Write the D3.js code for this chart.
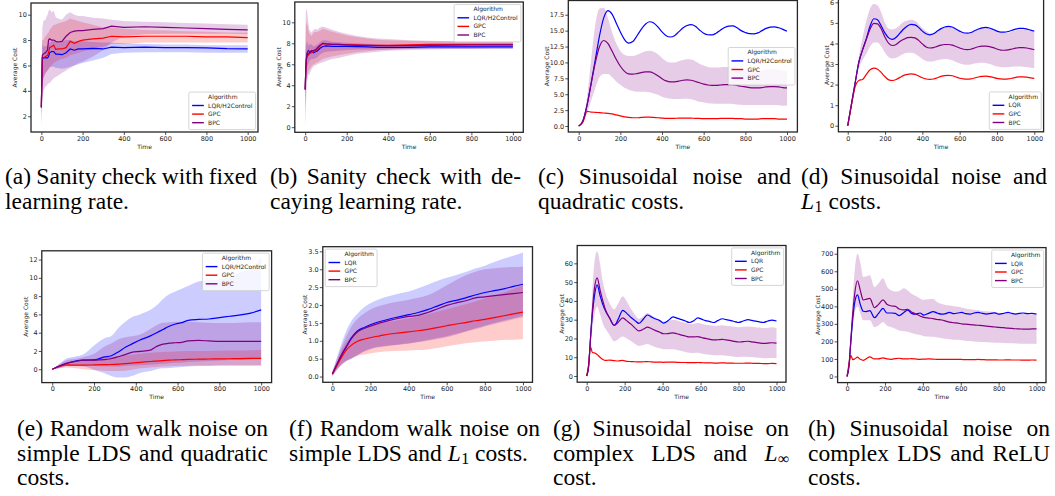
<!DOCTYPE html>
<html>
<head>
<meta charset="utf-8">
<script src="https://cdn.jsdelivr.net/npm/d3@7"></script>
<style>
  body { margin: 0; background: #fff; }
  svg { display: block; }
</style>
</head>
<body>
<svg id="fig" width="1055" height="496"></svg>
<script>
// ---- data ----
const xTicks = [0, 200, 400, 600, 800, 1000]

// (a) sanity check, fixed learning rate
const aT      = [0, 5, 10, 20, 30, 35, 40, 50, 60, 70, 80, 100, 120, 140, 160, 180, 200, 250, 300, 340, 400, 500, 600, 700, 800, 900, 1000]
const aLqr    = [2.7, 6.6, 6.6, 6.6, 6.6, 6.7, 7.0, 7.1, 7.1, 6.9, 6.9, 6.85, 7.0, 7.3, 7.2, 7.3, 7.3, 7.35, 7.3, 7.45, 7.4, 7.45, 7.4, 7.4, 7.38, 7.32, 7.3]
const aLqrLo  = [2.0, 4.5, 5.0, 5.4, 5.6, 5.7, 5.9, 5.9, 5.9, 5.8, 5.8, 5.75, 5.8, 5.9, 6.0, 6.1, 6.2, 6.4, 6.6, 6.9, 7.0, 7.05, 7.05, 7.05, 7.0, 7.0, 7.0]
const aLqrHi  = [3.4, 7.8, 7.5, 7.5, 7.6, 7.7, 7.8, 7.9, 7.9, 7.9, 7.9, 7.9, 8.0, 8.0, 7.9, 7.9, 7.9, 7.85, 7.8, 7.8, 7.75, 7.7, 7.65, 7.65, 7.6, 7.6, 7.6]
const aGpc    = [2.7, 6.6, 6.6, 6.7, 6.8, 7.0, 7.4, 7.5, 7.6, 7.25, 7.3, 7.3, 7.4, 7.9, 7.75, 7.9, 8.0, 8.1, 8.15, 8.3, 8.25, 8.3, 8.3, 8.3, 8.25, 8.25, 8.2]
const aGpcLo  = [2.0, 4.5, 5.0, 5.4, 5.6, 5.7, 5.8, 6.0, 6.2, 6.3, 6.4, 6.5, 6.6, 6.8, 6.9, 7.0, 7.1, 7.3, 7.5, 7.7, 7.7, 7.8, 7.8, 7.8, 7.8, 7.8, 7.8]
const aGpcHi  = [3.4, 8.0, 8.0, 8.3, 8.5, 8.6, 8.8, 9.0, 9.2, 9.2, 9.3, 9.4, 9.5, 9.7, 9.6, 9.5, 9.4, 9.2, 9.0, 9.0, 8.9, 8.8, 8.75, 8.7, 8.65, 8.6, 8.6]
const aBpc    = [2.7, 6.8, 6.9, 7.0, 7.2, 8.0, 8.1, 8.0, 8.0, 7.9, 7.85, 7.9, 8.3, 8.6, 8.7, 8.75, 8.75, 8.85, 8.9, 9.1, 9.0, 9.05, 9.0, 8.95, 8.9, 8.85, 8.8]
const aBpcLo  = [1.2, 3.0, 4.0, 4.3, 4.5, 4.6, 4.6, 4.8, 5.0, 5.1, 5.2, 5.4, 5.6, 5.8, 6.0, 6.2, 6.3, 6.7, 7.2, 7.8, 8.3, 8.45, 8.5, 8.5, 8.5, 8.5, 8.45]
const aBpcHi  = [4.5, 9.0, 9.5, 9.6, 10.0, 10.3, 10.4, 10.2, 10.3, 9.8, 9.7, 9.6, 10.0, 10.2, 10.0, 9.9, 9.9, 9.75, 9.7, 9.6, 9.5, 9.45, 9.4, 9.35, 9.3, 9.25, 9.2]

// (b) sanity check, decaying learning rate
const bT      = [0, 3, 6, 10, 15, 20, 30, 40, 50, 60, 70, 85, 100, 130, 160, 200, 250, 300, 350, 400, 500, 600, 700, 800, 900, 1000]
const bLqr    = [3.6, 5.5, 6.5, 7.0, 6.9, 7.1, 7.2, 7.1, 7.2, 7.3, 7.5, 7.7, 7.75, 7.7, 7.7, 7.7, 7.68, 7.65, 7.62, 7.6, 7.62, 7.65, 7.65, 7.65, 7.65, 7.65]
const bLqrLo  = [2.0, 3.5, 5.0, 5.8, 6.0, 6.3, 6.5, 6.5, 6.6, 6.7, 6.9, 7.1, 7.2, 7.25, 7.3, 7.35, 7.4, 7.4, 7.4, 7.4, 7.45, 7.45, 7.45, 7.45, 7.45, 7.45]
const bLqrHi  = [5.0, 7.5, 8.0, 8.2, 7.8, 7.9, 7.9, 7.7, 7.8, 7.9, 8.1, 8.3, 8.3, 8.15, 8.1, 8.05, 8.0, 7.95, 7.9, 7.85, 7.85, 7.85, 7.85, 7.85, 7.85, 7.85]
const bGpc    = [3.6, 5.5, 6.5, 6.8, 6.9, 7.0, 7.1, 7.2, 7.3, 7.5, 7.7, 8.0, 7.95, 7.9, 7.9, 7.85, 7.85, 7.8, 7.8, 7.8, 7.85, 7.9, 7.9, 7.9, 7.9, 7.9]
const bGpcLo  = [1.5, 3.0, 4.5, 5.0, 5.3, 5.5, 5.8, 6.0, 6.1, 6.2, 6.3, 6.5, 6.6, 6.75, 6.85, 7.0, 7.15, 7.25, 7.35, 7.4, 7.5, 7.55, 7.6, 7.6, 7.65, 7.65]
const bGpcHi  = [6.0, 9.5, 10.0, 9.8, 9.3, 8.9, 8.7, 9.0, 9.1, 9.1, 9.2, 9.4, 9.3, 9.1, 8.95, 8.75, 8.6, 8.45, 8.35, 8.3, 8.25, 8.2, 8.2, 8.2, 8.15, 8.15]
const bBpc    = [3.6, 5.6, 6.6, 7.1, 7.3, 7.2, 7.3, 7.3, 7.4, 7.6, 7.8, 8.0, 7.95, 7.9, 7.9, 7.85, 7.8, 7.8, 7.78, 7.75, 7.78, 7.8, 7.82, 7.84, 7.85, 7.85]
const bBpcLo  = [0.1, 1.5, 3.5, 4.5, 5.0, 5.0, 5.5, 5.8, 5.9, 6.0, 6.1, 6.2, 6.3, 6.5, 6.6, 6.8, 7.0, 7.1, 7.2, 7.3, 7.35, 7.4, 7.45, 7.45, 7.5, 7.5]
const bBpcHi  = [7.0, 11.0, 11.3, 11.0, 10.0, 9.3, 9.0, 9.3, 9.4, 9.3, 9.5, 9.6, 9.5, 9.3, 9.1, 8.9, 8.7, 8.55, 8.45, 8.4, 8.3, 8.25, 8.2, 8.2, 8.15, 8.15]

// (c) and (d) share a 20-step time grid
const t20 = [0, 20, 40, 60, 80, 100, 120, 140, 160, 180, 200, 220, 240, 260, 280, 300, 320, 340, 360, 380, 400, 420, 440, 460, 480, 500, 520, 540, 560, 580, 600, 620, 640, 660, 680, 700, 720, 740, 760, 780, 800, 820, 840, 860, 880, 900, 920, 940, 960, 980, 1000]
const cLqr    = [0, 0.8, 3.3, 6.8, 10.5, 14.2, 17.0, 18.15, 17.6, 16.2, 14.8, 13.6, 13.05, 13.3, 14.2, 15.2, 16.0, 16.4, 16.2, 15.6, 14.8, 14.2, 14.0, 14.2, 14.8, 15.4, 15.8, 15.95, 15.7, 15.1, 14.6, 14.35, 14.32, 14.6, 15.05, 15.5, 15.72, 15.75, 15.45, 15.0, 14.7, 14.52, 14.5, 14.65, 15.0, 15.35, 15.55, 15.6, 15.45, 15.2, 14.9]
const cGpc    = [0, 0.6, 2.3, 2.2, 2.15, 2.1, 2.05, 2.0, 1.9, 1.75, 1.6, 1.45, 1.35, 1.3, 1.3, 1.35, 1.4, 1.4, 1.35, 1.3, 1.25, 1.2, 1.2, 1.2, 1.25, 1.25, 1.25, 1.25, 1.2, 1.2, 1.15, 1.15, 1.15, 1.15, 1.2, 1.2, 1.2, 1.2, 1.15, 1.15, 1.1, 1.1, 1.1, 1.1, 1.15, 1.15, 1.15, 1.15, 1.1, 1.1, 1.1]
const cBpc    = [0, 0.8, 3.3, 6.7, 10.0, 12.5, 13.45, 13.0, 11.8, 10.5, 9.4, 8.6, 8.2, 8.15, 8.25, 8.4, 8.5, 8.5, 8.3, 7.9, 7.45, 7.1, 6.95, 6.95, 7.05, 7.2, 7.25, 7.2, 7.0, 6.8, 6.6, 6.45, 6.4, 6.4, 6.45, 6.5, 6.5, 6.5, 6.4, 6.25, 6.15, 6.05, 6.0, 6.0, 6.05, 6.15, 6.2, 6.2, 6.15, 6.05, 6.0]
const cBpcLo  = [0, 0.6, 2.0, 4.0, 6.0, 7.7, 8.2, 8.2, 7.7, 7.0, 6.5, 6.0, 5.7, 5.5, 5.4, 5.4, 5.4, 5.3, 5.1, 4.9, 4.6, 4.4, 4.3, 4.25, 4.25, 4.3, 4.3, 4.2, 4.0, 3.8, 3.7, 3.6, 3.55, 3.5, 3.5, 3.5, 3.5, 3.45, 3.4, 3.35, 3.3, 3.3, 3.3, 3.3, 3.3, 3.3, 3.3, 3.3, 3.25, 3.2, 3.2]
const cBpcHi  = [0, 1.0, 4.5, 10.5, 16.0, 18.5, 18.6, 17.0, 14.8, 13.0, 11.8, 11.2, 11.0, 11.0, 11.2, 11.5, 11.75, 11.85, 11.7, 11.3, 10.7, 10.2, 10.0, 10.0, 10.2, 10.4, 10.5, 10.45, 10.2, 9.8, 9.5, 9.3, 9.2, 9.2, 9.25, 9.3, 9.3, 9.3, 9.2, 9.0, 8.85, 8.75, 8.7, 8.7, 8.75, 8.85, 8.9, 8.9, 8.85, 8.75, 8.7]

const dLqr    = [0, 1.05, 2.1, 3.1, 3.7, 4.25, 4.85, 5.2, 5.15, 4.85, 4.5, 4.27, 4.2, 4.3, 4.5, 4.7, 4.85, 4.93, 4.9, 4.78, 4.6, 4.47, 4.42, 4.47, 4.6, 4.72, 4.8, 4.83, 4.8, 4.7, 4.6, 4.52, 4.5, 4.53, 4.62, 4.7, 4.76, 4.78, 4.75, 4.68, 4.6, 4.55, 4.55, 4.58, 4.64, 4.7, 4.73, 4.73, 4.7, 4.65, 4.6]
const dGpc    = [0, 1.0, 1.9, 2.2, 2.25, 2.5, 2.72, 2.8, 2.75, 2.58, 2.38, 2.23, 2.2, 2.25, 2.35, 2.45, 2.5, 2.52, 2.5, 2.42, 2.33, 2.27, 2.25, 2.27, 2.33, 2.4, 2.44, 2.45, 2.43, 2.37, 2.31, 2.28, 2.27, 2.28, 2.32, 2.37, 2.4, 2.41, 2.39, 2.35, 2.3, 2.28, 2.27, 2.28, 2.31, 2.35, 2.38, 2.38, 2.36, 2.33, 2.3]
const dBpc    = [0, 1.05, 2.1, 3.1, 3.7, 4.2, 4.7, 4.98, 4.95, 4.7, 4.3, 4.0, 3.9, 3.95, 4.1, 4.2, 4.28, 4.3, 4.27, 4.15, 3.98, 3.83, 3.78, 3.8, 3.86, 3.92, 3.95, 3.95, 3.92, 3.85, 3.78, 3.72, 3.7, 3.72, 3.78, 3.84, 3.87, 3.87, 3.85, 3.8, 3.73, 3.68, 3.67, 3.69, 3.73, 3.77, 3.8, 3.8, 3.78, 3.74, 3.7]
const dBpcLo  = [0, 1.0, 2.0, 2.8, 3.2, 3.5, 3.85, 4.05, 4.05, 3.85, 3.55, 3.33, 3.27, 3.3, 3.4, 3.5, 3.55, 3.55, 3.5, 3.38, 3.25, 3.15, 3.12, 3.13, 3.18, 3.22, 3.24, 3.23, 3.18, 3.1, 3.03, 2.98, 2.97, 2.98, 3.02, 3.05, 3.06, 3.05, 3.0, 2.94, 2.88, 2.85, 2.84, 2.85, 2.87, 2.88, 2.88, 2.87, 2.85, 2.82, 2.8]
const dBpcHi  = [0, 1.1, 2.2, 3.4, 4.3, 5.1, 5.7, 5.92, 5.85, 5.5, 5.0, 4.72, 4.68, 4.75, 4.9, 5.05, 5.12, 5.15, 5.1, 4.95, 4.75, 4.6, 4.5, 4.52, 4.6, 4.7, 4.78, 4.8, 4.77, 4.7, 4.6, 4.52, 4.5, 4.52, 4.6, 4.68, 4.74, 4.76, 4.73, 4.66, 4.58, 4.52, 4.5, 4.52, 4.58, 4.64, 4.68, 4.68, 4.65, 4.6, 4.55]

// (e) random walk noise, quadratic costs
const eT      = [0, 35, 70, 110, 150, 200, 250, 280, 320, 350, 380, 420, 470, 500, 530, 560, 590, 620, 650, 700, 750, 800, 850, 900, 950, 1000]
const eLqr    = [0, 0.35, 0.66, 0.9, 1.0, 1.02, 1.35, 1.45, 1.95, 2.4, 2.75, 3.2, 3.65, 4.0, 4.35, 4.7, 4.95, 5.1, 5.35, 5.45, 5.5, 5.65, 5.8, 5.95, 6.15, 6.5]
const eLqrLo  = [0, 0.15, 0.35, 0.35, 0.3, -0.05, -0.45, -0.7, -0.9, -0.9, -0.75, -0.4, -0.2, 0.0, 0.1, 0.15, 0.2, 0.25, 0.3, 0.35, 0.35, 0.4, 0.4, 0.4, 0.4, 0.4]
const eLqrHi  = [0, 0.6, 1.2, 1.4, 1.65, 2.6, 3.4, 3.6, 4.6, 5.2, 5.7, 6.0, 6.5, 7.0, 7.7, 8.2, 8.5, 8.8, 9.1, 9.6, 9.75, 9.85, 10.1, 10.6, 11.0, 12.2]
const eGpc    = [0, 0.3, 0.47, 0.45, 0.45, 0.47, 0.5, 0.52, 0.57, 0.62, 0.68, 0.75, 0.85, 0.9, 0.95, 1.0, 1.02, 1.05, 1.08, 1.1, 1.12, 1.13, 1.15, 1.17, 1.18, 1.2]
const eGpcLo  = [0, 0.1, 0.2, 0.1, 0.0, -0.1, -0.15, -0.2, -0.2, -0.15, -0.05, 0.1, 0.2, 0.25, 0.3, 0.33, 0.35, 0.37, 0.38, 0.4, 0.4, 0.4, 0.4, 0.4, 0.4, 0.4]
const eGpcHi  = [0, 0.5, 0.8, 0.9, 1.0, 1.15, 1.3, 1.35, 1.45, 1.5, 1.6, 1.7, 1.8, 1.85, 1.9, 1.92, 1.95, 1.97, 2.0, 2.0, 2.0, 2.02, 2.05, 2.05, 2.08, 2.1]
const eBpc    = [0, 0.35, 0.66, 0.85, 1.0, 1.0, 1.05, 1.15, 1.4, 1.6, 1.85, 1.95, 2.1, 2.5, 2.75, 2.85, 2.9, 2.95, 3.1, 3.15, 3.1, 3.05, 3.05, 3.05, 3.05, 3.05]
const eBpcLo  = [0, 0.15, 0.35, 0.4, 0.4, 0.35, 0.3, 0.3, 0.3, 0.35, 0.4, 0.45, 0.5, 0.55, 0.6, 0.65, 0.7, 0.75, 0.8, 0.85, 0.9, 0.95, 1.0, 1.05, 1.1, 1.2]
const eBpcHi  = [0, 0.55, 1.0, 1.15, 1.35, 1.7, 2.5, 2.8, 3.3, 3.5, 3.6, 3.8, 4.4, 4.85, 5.1, 5.15, 5.2, 5.2, 5.2, 5.15, 5.1, 5.05, 5.05, 5.1, 5.15, 5.15]

// (f) random walk noise, L1 costs
const fT      = [0, 25, 50, 75, 100, 130, 170, 210, 250, 300, 350, 400, 450, 500, 550, 600, 650, 700, 750, 800, 850, 900, 950, 1000]
const fLqr    = [0.07, 0.35, 0.62, 0.85, 1.08, 1.27, 1.38, 1.47, 1.54, 1.61, 1.67, 1.73, 1.79, 1.87, 1.97, 2.07, 2.13, 2.2, 2.28, 2.35, 2.4, 2.45, 2.52, 2.58]
const fLqrLo  = [0.0, 0.2, 0.35, 0.45, 0.5, 0.6, 0.72, 0.8, 0.84, 0.87, 0.9, 0.93, 0.97, 1.02, 1.08, 1.13, 1.2, 1.27, 1.35, 1.43, 1.5, 1.57, 1.63, 1.7]
const fLqrHi  = [0.15, 0.55, 0.95, 1.3, 1.55, 1.75, 1.95, 2.08, 2.17, 2.25, 2.32, 2.38, 2.47, 2.57, 2.67, 2.76, 2.84, 2.92, 3.02, 3.1, 3.2, 3.3, 3.38, 3.47]
const fGpc    = [0.07, 0.32, 0.55, 0.75, 0.88, 0.98, 1.05, 1.1, 1.14, 1.19, 1.22, 1.25, 1.28, 1.32, 1.37, 1.42, 1.47, 1.51, 1.56, 1.6, 1.65, 1.7, 1.75, 1.8]
const fGpcLo  = [0.02, 0.2, 0.35, 0.45, 0.52, 0.58, 0.62, 0.66, 0.69, 0.71, 0.72, 0.73, 0.74, 0.76, 0.8, 0.85, 0.89, 0.93, 0.96, 0.98, 1.0, 1.02, 1.03, 1.05]
const fGpcHi  = [0.12, 0.45, 0.75, 0.98, 1.12, 1.25, 1.35, 1.42, 1.48, 1.53, 1.58, 1.63, 1.68, 1.74, 1.81, 1.88, 1.95, 2.02, 2.1, 2.18, 2.26, 2.35, 2.45, 2.55]
const fBpc    = [0.07, 0.35, 0.62, 0.85, 1.06, 1.24, 1.35, 1.43, 1.5, 1.57, 1.63, 1.68, 1.71, 1.79, 1.89, 1.99, 2.06, 2.12, 2.2, 2.23, 2.26, 2.29, 2.32, 2.35]
const fBpcLo  = [0.02, 0.2, 0.33, 0.43, 0.5, 0.58, 0.7, 0.78, 0.82, 0.86, 0.89, 0.92, 0.96, 1.0, 1.05, 1.1, 1.17, 1.25, 1.32, 1.4, 1.47, 1.53, 1.6, 1.66]
const fBpcHi  = [0.12, 0.5, 0.85, 1.15, 1.4, 1.6, 1.78, 1.9, 1.98, 2.05, 2.1, 2.15, 2.2, 2.27, 2.4, 2.55, 2.7, 2.83, 2.93, 3.0, 3.03, 3.05, 3.06, 3.07]

// (g) and (h) share an uneven time grid
const gT      = [0, 10, 20, 30, 40, 55, 70, 85, 100, 120, 145, 165, 190, 210, 235, 255, 275, 300, 320, 340, 360, 385, 405, 430, 455, 475, 500, 520, 540, 565, 585, 605, 625, 650, 670, 690, 715, 735, 760, 780, 800, 825, 850, 870, 890, 910, 930, 955, 975, 1000]
const gLqr    = [0, 5, 20, 33, 42, 48.5, 43, 38, 34.5, 31, 27, 30, 35, 33.5, 31, 29.5, 28, 30.5, 32.5, 31.5, 30.5, 29.5, 28.2, 29.5, 31.5, 30.8, 30, 29.3, 28.5, 29.5, 31, 30.3, 29.5, 29, 28.5, 29.5, 30.5, 30, 29.5, 29, 28.5, 29.3, 30, 29.6, 29.2, 28.8, 28.5, 29.3, 29.8, 29.3]
const gGpc    = [0, 6, 15.5, 12.5, 12.3, 11.5, 10, 8.8, 8.3, 8.5, 8.2, 8.0, 8.3, 7.8, 7.7, 7.6, 7.5, 7.6, 7.7, 7.5, 7.4, 7.4, 7.3, 7.4, 7.4, 7.3, 7.2, 7.2, 7.1, 7.1, 7.2, 7.1, 7.0, 7.0, 6.9, 6.9, 7.0, 6.9, 6.9, 6.8, 6.8, 6.8, 6.9, 6.8, 6.7, 6.7, 6.6, 6.6, 6.7, 6.6]
const gBpc    = [0, 5, 20, 35, 46, 52.3, 46, 40, 35, 31, 27, 28.5, 31, 29.5, 27.5, 25.5, 24, 25, 26, 25.3, 24.3, 23.3, 22.5, 22.6, 23, 22.5, 21.8, 21.3, 20.8, 20.8, 21, 20.5, 20, 19.5, 19.2, 19.3, 19.5, 19.2, 18.8, 18.4, 18.1, 18.3, 18.5, 18.2, 17.9, 17.6, 17.4, 17.5, 17.7, 17.5]
const gBpcLo  = [0, 3, 15, 25, 32, 37, 33, 28, 25, 22, 18.5, 19.5, 21, 20, 18.5, 17, 16, 16.5, 17, 16.3, 15.5, 14.8, 14.3, 14.2, 14.3, 13.8, 13.3, 12.8, 12.4, 12.3, 12.4, 12, 11.6, 11.3, 11, 11, 11.1, 10.8, 10.5, 10.3, 10.1, 10.2, 10.3, 10.1, 9.9, 9.7, 9.5, 9.5, 9.6, 9.5]
const gBpcHi  = [0, 7, 25, 45, 60, 66.5, 60, 50, 44, 39, 35.5, 38.5, 42.5, 40, 35.5, 32.5, 30.5, 32, 33.5, 32.5, 31, 30, 29, 29.2, 30, 29.5, 28.8, 28.2, 27.7, 27.8, 28.2, 27.8, 27.3, 27, 26.7, 26.8, 27, 26.8, 26.5, 26.2, 26, 26.2, 26.4, 26.2, 26, 25.8, 25.6, 25.7, 25.9, 25.6]

const hLqr    = [0, 60, 200, 330, 420, 465, 410, 372, 370, 375, 335, 358, 388, 362, 362, 360, 347, 365, 378, 360, 355, 362, 350, 360, 370, 362, 355, 358, 365, 358, 362, 366, 358, 356, 362, 365, 360, 356, 360, 363, 355, 360, 365, 360, 356, 360, 362, 358, 360, 356]
const hGpc    = [0, 70, 120, 96, 100, 110, 98, 92, 100, 112, 100, 100, 106, 100, 98, 102, 104, 100, 100, 102, 100, 98, 99, 100, 99, 97, 98, 98, 97, 97, 98, 97, 96, 96, 96, 97, 96, 95, 95, 95, 94, 94, 95, 94, 94, 94, 93, 93, 94, 93]
const hBpc    = [0, 60, 210, 360, 470, 546, 490, 437, 440, 445, 392, 410, 437, 412, 402, 400, 385, 380, 383, 368, 358, 345, 337, 333, 330, 325, 322, 316, 310, 306, 304, 300, 298, 296, 294, 292, 290, 287, 284, 282, 280, 278, 276, 274, 272, 271, 270, 270, 271, 271]
const hBpcLo  = [0, 40, 160, 280, 360, 400, 360, 320, 320, 320, 280, 290, 310, 290, 280, 272, 262, 258, 255, 248, 242, 236, 230, 228, 226, 222, 218, 215, 212, 210, 209, 206, 204, 202, 200, 198, 196, 195, 194, 193, 192, 191, 190, 189, 188, 187, 187, 186, 186, 185]
const hBpcHi  = [0, 80, 260, 450, 600, 700, 650, 568, 570, 578, 510, 530, 560, 515, 490, 485, 488, 503, 490, 472, 460, 445, 437, 440, 442, 425, 413, 408, 405, 401, 399, 393, 388, 383, 380, 377, 374, 372, 370, 367, 364, 362, 361, 360, 358, 357, 356, 355, 354, 352]

// captions, one entry per printed line
const capA = ['(a) Sanity check with fixed', 'learning rate.']
const capB = ['(b) Sanity check with de-', 'caying learning rate.']
const capC = ['(c) Sinusoidal noise and', 'quadratic costs.']
const capD = ['(d) Sinusoidal noise and', 'L_1 costs.']
const capE = ['(e) Random walk noise on', 'simple LDS and quadratic', 'costs.']
const capF = ['(f) Random walk noise on', 'simple LDS and L_1 costs.']
const capG = ['(g) Sinusoidal noise on', 'complex LDS and L_\u221e', 'cost.']
const capH = ['(h) Sinusoidal noise on', 'complex LDS and ReLU', 'costs.']

// ---- drawing ----
const svg = d3.select('#fig')
const BLUE = '#0000ff', RED = '#ff0000', PURPLE = '#800080'
const INK = '#262626'
const H2 = 'LQR/H2Control'

function trio(lqr, gpc, bpc) {
  return [
    { color: BLUE, v: lqr[0], lo: lqr[1], hi: lqr[2] },
    { color: RED, v: gpc[0], lo: gpc[1], hi: gpc[2] },
    { color: PURPLE, v: bpc[0], lo: bpc[1], hi: bpc[2] }
  ]
}

const panels = [
  { frame: [31, 3, 258, 132], yDom: [0.76, 10.92], yTicks: [2, 4, 6, 8, 10], fmt: d3.format('d'),
    t: aT, curve: d3.curveLinear, lqrName: H2, loc: 'lower right',
    series: trio([aLqr, aLqrLo, aLqrHi], [aGpc, aGpcLo, aGpcHi], [aBpc, aBpcLo, aBpcHi]) },
  { frame: [294.8, 2, 523.3, 132.3], yDom: [-0.49, 11.94], yTicks: [0, 2, 4, 6, 8, 10], fmt: d3.format('d'),
    t: bT, curve: d3.curveLinear, lqrName: H2, loc: 'upper right',
    series: trio([bLqr, bLqrLo, bLqrHi], [bGpc, bGpcLo, bGpcHi], [bBpc, bBpcLo, bBpcHi]) },
  { frame: [568.3, 0.5, 797.4, 132], yDom: [-0.94, 19.74], yTicks: [0, 2.5, 5, 7.5, 10, 12.5, 15, 17.5], fmt: d3.format('.1f'),
    t: t20, curve: d3.curveMonotoneX, lqrName: H2, loc: 'center right',
    series: trio([cLqr], [cGpc], [cBpc, cBpcLo, cBpcHi]) },
  { frame: [838.4, -1.8, 1043.6, 131.8], yDom: [-0.295, 6.2], yTicks: [0, 1, 2, 3, 4, 5, 6], fmt: d3.format('d'),
    t: t20, curve: d3.curveMonotoneX, lqrName: 'LQR', loc: 'lower right',
    series: trio([dLqr], [dGpc], [dBpc, dBpcLo, dBpcHi]) },
  { frame: [41.8, 250.8, 271.6, 382.6], yDom: [-1.46, 12.96], yTicks: [0, 2, 4, 6, 8, 10, 12], fmt: d3.format('d'),
    t: eT, curve: d3.curveMonotoneX, lqrName: H2, loc: 'upper right',
    series: trio([eLqr, eLqrLo, eLqrHi], [eGpc, eGpcLo, eGpcHi], [eBpc, eBpcLo, eBpcHi]) },
  { frame: [322.8, 246.7, 532.5, 382.3], yDom: [-0.16, 3.63], yTicks: [0, 0.5, 1, 1.5, 2, 2.5, 3, 3.5], fmt: d3.format('.1f'),
    t: fT, curve: d3.curveMonotoneX, lqrName: 'LQR', loc: 'upper left',
    series: trio([fLqr, fLqrLo, fLqrHi], [fGpc, fGpcLo, fGpcHi], [fBpc, fBpcLo, fBpcHi]) },
  { frame: [577.2, 245.5, 786, 382.2], yDom: [-3.3, 69.5], yTicks: [0, 10, 20, 30, 40, 50, 60], fmt: d3.format('d'),
    t: gT, curve: d3.curveMonotoneX, lqrName: 'LQR', loc: 'upper right',
    series: trio([gLqr], [gGpc], [gBpc, gBpcLo, gBpcHi]) },
  { frame: [837.6, 247.6, 1046, 382.6], yDom: [-35, 735], yTicks: [0, 100, 200, 300, 400, 500, 600, 700], fmt: d3.format('d'),
    t: gT, curve: d3.curveMonotoneX, lqrName: 'LQR', loc: 'upper right',
    series: trio([hLqr], [hGpc], [hBpc, hBpcLo, hBpcHi]) }
]

function drawPanel(p) {
  const [L, T, R, B] = p.frame
  const x = d3.scaleLinear().domain([-50, 1050]).range([L, R])
  const y = d3.scaleLinear().domain(p.yDom).range([B, T])
  const g = svg.append('g')

  // confidence bands
  p.series.forEach(s => {
    if (!s.lo) return
    const area = d3.area()
        .x((d, i) => x(p.t[i]))
        .y0((d, i) => y(s.lo[i]))
        .y1((d, i) => y(s.hi[i]))
        .curve(p.curve)
    g.append('path').datum(s.v).attr('d', area)
        .attr('fill', s.color).attr('fill-opacity', 0.2)
  })

  // mean lines
  p.series.forEach(s => {
    const line = d3.line().x((d, i) => x(p.t[i])).y(d => y(d)).curve(p.curve)
    g.append('path').datum(s.v).attr('d', line)
        .attr('fill', 'none').attr('stroke', s.color).attr('stroke-width', 1.2)
  })

  const xa = g.append('g').attr('transform', `translate(0,${B})`)
      .call(d3.axisBottom(x).tickValues(xTicks).tickFormat(d3.format('d')).tickSize(3).tickPadding(1.2))
  const ya = g.append('g').attr('transform', `translate(${L},0)`)
      .call(d3.axisLeft(y).tickValues(p.yTicks).tickFormat(p.fmt).tickSize(3).tickPadding(1.2))
  ;[xa, ya].forEach(a => {
    a.attr('font-size', 6.5).attr('font-family', '"DejaVu Sans", sans-serif')
    a.select('.domain').remove()
    a.selectAll('line').attr('stroke', INK).attr('stroke-width', 0.8)
    a.selectAll('text').attr('fill', INK)
  })

  // frame
  g.append('rect')
      .attr('x', L).attr('y', T).attr('width', R - L).attr('height', B - T)
      .attr('fill', 'none').attr('stroke', INK).attr('stroke-width', 1.3)

  // axis labels
  g.append('text')
      .attr('x', (L + R) / 2).attr('y', B + 16.8)
      .attr('text-anchor', 'middle')
      .style('font', '6px "DejaVu Sans", sans-serif').attr('fill', INK)
      .text('Time')
  const yb = ya.node().getBBox()
  const cx = L + yb.x - 3.2
  g.append('text')
      .attr('transform', `translate(${cx},${(T + B) / 2}) rotate(-90)`)
      .attr('text-anchor', 'middle').attr('dy', '0.35em')
      .style('font', '6px "DejaVu Sans", sans-serif').attr('fill', INK)
      .text('Average Cost')

  // legend
  const items = [
    { label: 'Algorithm' },
    { label: p.lqrName, color: BLUE },
    { label: 'GPC', color: RED },
    { label: 'BPC', color: PURPLE }
  ]
  const lg = g.append('g')
  const box = lg.append('rect')
  const texts = lg.selectAll('text.lab').data(items).enter().append('text')
      .attr('class', 'lab')
      .style('font', '6px "DejaVu Sans", sans-serif').attr('fill', INK)
      .attr('x', 19.3).attr('y', (d, i) => 4.8 + i * 8.6).attr('dy', '0.35em')
      .text(d => d.label)
  let maxW = 0
  texts.each(function() { maxW = Math.max(maxW, this.getComputedTextLength()) })
  lg.selectAll('line.h').data(items.filter(d => d.color)).enter().append('line')
      .attr('x1', 3.3).attr('x2', 15)
      .attr('y1', (d, i) => 4.8 + (i + 1) * 8.6).attr('y2', (d, i) => 4.8 + (i + 1) * 8.6)
      .attr('stroke', d => d.color).attr('stroke-width', 1.4)
  const w = 19.3 + maxW + 3.2, h = 37.5, pad = 2.4
  box.attr('width', w).attr('height', h).attr('rx', 1.5)
      .attr('fill', '#fff').attr('fill-opacity', 0.8)
      .attr('stroke', '#cccccc').attr('stroke-width', 0.8)
  const lx = p.loc.includes('right') ? R - pad - w : L + pad
  const ly = p.loc.startsWith('upper') ? T + pad
      : p.loc.startsWith('lower') ? B - pad - h
      : (T + B) / 2 - h / 2
  lg.attr('transform', `translate(${lx},${ly})`)
}

panels.forEach(drawPanel)

// ---- captions (justified like the LaTeX source) ----
const CAP_FONT = 23.5, LEAD = 24.5
function caption(lines, x0, x1, y0) {
  lines.forEach((ln, i) => {
    const t = svg.append('text')
        .attr('x', x0).attr('y', y0 + i * LEAD)
        .style('font-family', '"Liberation Serif", "Times New Roman", serif')
        .style('font-size', CAP_FONT + 'px')
        .attr('fill', '#000')
    let shift = 0
    ln.split(/(L_1|L_\u221e)/).forEach(part => {
      if (!part) return
      if (part.startsWith('L_')) {
        t.append('tspan').attr('font-style', 'italic').text('L')
        t.append('tspan').style('font-size', '16px').attr('dx', 0.5).attr('dy', 3.5).text(part.slice(2))
        shift = -3.5
      } else {
        const sp = t.append('tspan').text(part)
        if (shift) { sp.attr('dy', shift); shift = 0 }
      }
    })
    if (i < lines.length - 1) {
      const natural = t.node().getComputedTextLength()
      const gaps = (ln.match(/ /g) || []).length
      if (gaps) t.style('word-spacing', ((x1 - x0 - natural) / gaps) + 'px')
    }
  })
}

caption(capA, 5, 257, 184)
caption(capB, 270, 521, 184)
caption(capC, 538, 791, 184)
caption(capD, 801, 1047, 184)
caption(capE, 17, 268, 436)
caption(capF, 289, 540, 436)
caption(capG, 553, 789, 436)
caption(capH, 808, 1050, 436)
</script>
</body>
</html>
